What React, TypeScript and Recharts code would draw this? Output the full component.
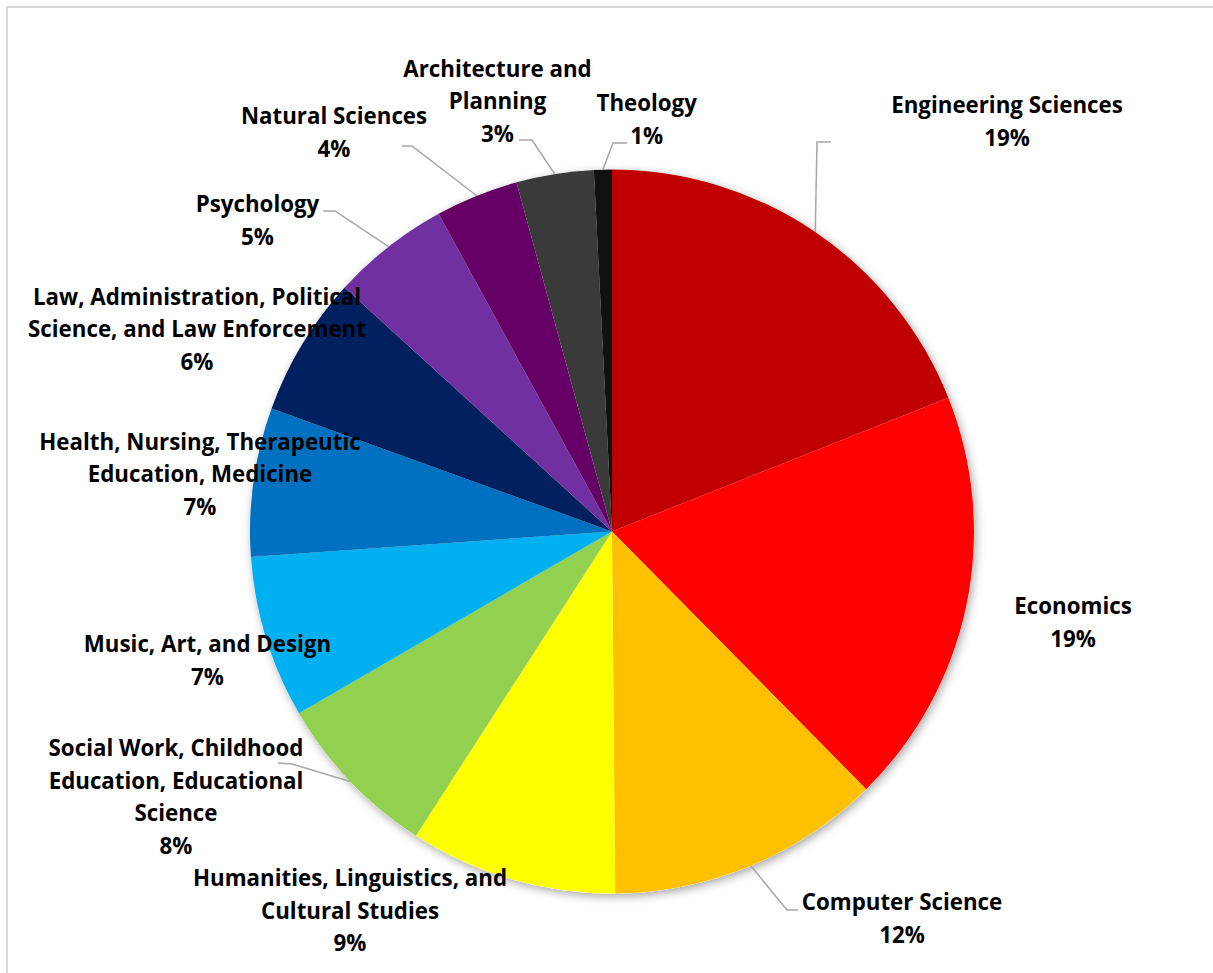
import React from "react";
import { PieChart, Pie, Cell } from "recharts";

// shares of students by field (clockwise from 12 o'clock)
const categories = [
  "Engineering Sciences",
  "Economics",
  "Computer Science",
  "Humanities, Linguistics, and Cultural Studies",
  "Social Work, Childhood Education, Educational Science",
  "Music, Art, and Design",
  "Health, Nursing, Therapeutic Education, Medicine",
  "Law, Administration, Political Science, and Law Enforcement",
  "Psychology",
  "Natural Sciences",
  "Architecture and Planning",
  "Theology",
];

const shares = [18.98, 18.63, 12.25, 9.25, 7.52, 7.25, 6.64, 6.25, 5.28, 3.7, 3.45, 0.8];

// how each label wraps in the original
const labelLines = [
  ["Engineering Sciences"],
  ["Economics"],
  ["Computer Science"],
  ["Humanities, Linguistics, and", "Cultural Studies"],
  ["Social Work, Childhood", "Education, Educational", "Science"],
  ["Music, Art, and Design"],
  ["Health, Nursing, Therapeutic", "Education, Medicine"],
  ["Law, Administration, Political", "Science, and Law Enforcement"],
  ["Psychology"],
  ["Natural Sciences"],
  ["Architecture and", "Planning"],
  ["Theology"],
];

const sliceColors = [
  "#C00000",
  "#FF0000",
  "#FFC000",
  "#FFFF00",
  "#92D050",
  "#00B0F0",
  "#0070C0",
  "#002060",
  "#7030A0",
  "#660066",
  "#3A3A3A",
  "#111111",
];

const data = categories.map((name, i) => ({ name, value: shares[i] }));

// label placement relative to the pie centre (x = text centre, y = first line centre)
// leader = [elbow, end] points, also relative to the centre
type Spot = { x: number; y: number; leader?: number[][] };
const labelSpots: Spot[] = [
  { x: 395, y: -427, leader: [[205, -389.5], [219, -389.5]] },
  { x: 461, y: 74 },
  { x: 290, y: 370, leader: [[175, 378.5], [186, 378.5]] },
  { x: -262, y: 346 },
  { x: -436, y: 216, leader: [[-320, 232.5], [-334, 231.5]] },
  { x: -404.5, y: 112 },
  { x: -412, y: -90.5 },
  { x: -415, y: -235.5 },
  { x: -354.5, y: -328, leader: [[-277, -320.5], [-289, -320.5]] },
  { x: -278, y: -416, leader: [[-200, -385.5], [-210, -385.5]] },
  { x: -114.5, y: -463.5, leader: [[-80, -391.5], [-93, -391.5]] },
  { x: 34.7, y: -429, leader: [[1, -388.5], [15, -388.5]] },
];

const RADIAN = Math.PI / 180;
const LINE_H = 32.5;
const FONT = "'Open Sans', Lato, sans-serif";

function renderLabel(props: any) {
  const { cx, cy, midAngle, outerRadius, index, percent } = props;
  const spot = labelSpots[index];
  const lines = [...labelLines[index], `${Math.round(percent * 100)}%`];
  const sx = cx + outerRadius * Math.cos(-midAngle * RADIAN);
  const sy = cy + outerRadius * Math.sin(-midAngle * RADIAN);
  return (
    <g key={`lbl-${index}`}>
      {spot.leader && (
        <polyline
          points={[[sx - cx, sy - cy], ...spot.leader]
            .map(([x, y]) => `${cx + x},${cy + y}`)
            .join(" ")}
          fill="none"
          stroke="#a6a6a6"
          strokeWidth={1.5}
        />
      )}
      {lines.map((line, j) => (
        <text
          key={j}
          x={cx + spot.x}
          y={cy + spot.y + j * LINE_H}
          textAnchor="middle"
          dominantBaseline="central"
          fill="#000"
          fontFamily={FONT}
          fontWeight={700}
          fontSize={22.3}
        >
          {line}
        </text>
      ))}
    </g>
  );
}

export default function App() {
  return (
    <div
      style={{
        position: "absolute",
        left: 0,
        top: 0,
        width: 1213,
        height: 973,
        overflow: "hidden",
        background: "#fff",
      }}
    >
      <div
        style={{
          position: "absolute",
          left: 6,
          top: 6,
          width: 1240,
          height: 1000,
          border: "2px solid #d9d9d9",
        }}
      />
      <PieChart width={1213} height={973} margin={{ top: 0, right: 0, bottom: 0, left: 0 }} style={{ position: "absolute", left: 0, top: 0 }}>
        <defs>
          <filter id="pieShadow" x="-20%" y="-20%" width="140%" height="140%">
            <feDropShadow dx="2" dy="3" stdDeviation="5" floodColor="#000" floodOpacity="0.35" />
          </filter>
        </defs>
        {/* soft shadow underneath, same slices */}
        <Pie
          data={data}
          dataKey="value"
          cx={612}
          cy={531.5}
          outerRadius={362}
          startAngle={90}
          endAngle={-270}
          stroke="none"
          label={false}
          labelLine={false}
          isAnimationActive={false}
        >
          {data.map((d, i) => (
            <Cell key={`s-${i}`} fill="#fff" filter="url(#pieShadow)" />
          ))}
        </Pie>
        <Pie
          data={data}
          dataKey="value"
          cx={612}
          cy={531.5}
          outerRadius={362}
          startAngle={90}
          endAngle={-270}
          stroke="none"
          label={renderLabel}
          labelLine={false}
          isAnimationActive={false}
        >
          {data.map((d, i) => (
            <Cell key={`c-${i}`} fill={sliceColors[i]} />
          ))}
        </Pie>
      </PieChart>
    </div>
  );
}
